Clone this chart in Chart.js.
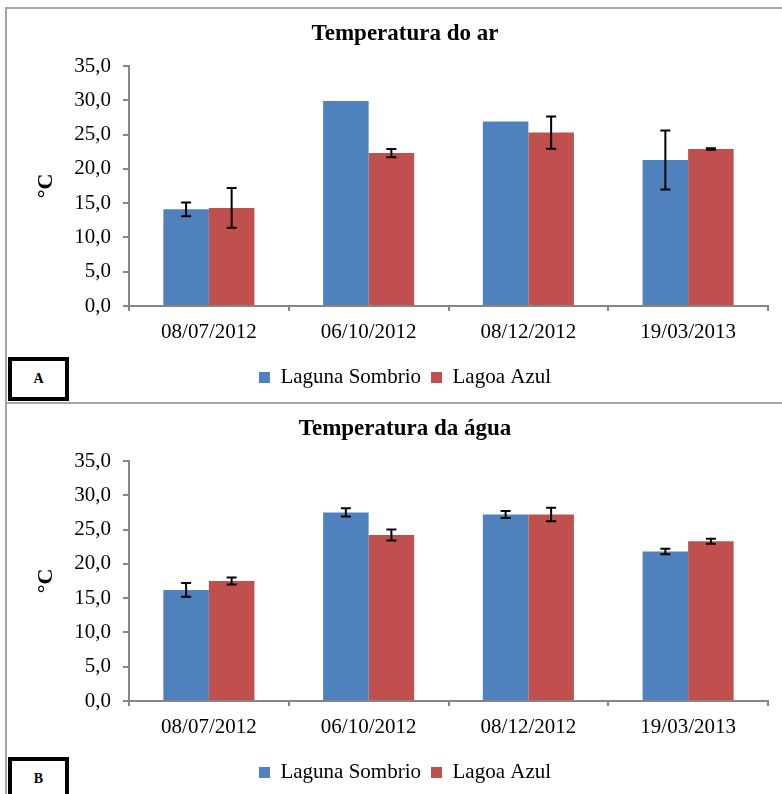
<!DOCTYPE html>
<html>
<head>
<meta charset="utf-8">
<script src="https://cdn.jsdelivr.net/npm/chart.js@4.4.0/dist/chart.umd.min.js"></script>
<style>
  body { margin: 0; background: #fff; overflow: hidden; width: 782px; height: 794px; position: relative; }
  canvas { position: absolute; left: 0; }
  .line { position: absolute; background: #a6a6a6; }
  .tag { position: absolute; left: 8px; width: 53px; height: 36px; border: 4px solid #000; background: #fff;
         font: bold 14px "Liberation Serif", serif; display: flex; align-items: center; justify-content: center; }
</style>
</head>
<body>
<canvas id="arChart" width="810" height="400" style="top:0"></canvas>
<canvas id="aguaChart" width="810" height="400" style="top:395px"></canvas>

<div class="line" style="left:5px; top:7px; width:2px; height:787px"></div>
<div class="line" style="left:5px; top:7px; width:777px; height:2px"></div>
<div class="line" style="left:5px; top:402px; width:777px; height:2px"></div>
<div class="tag" style="top:357px">A</div>
<div class="tag" style="top:757px">B</div>

<script>
// Data
const dates = ["08/07/2012", "06/10/2012", "08/12/2012", "19/03/2013"];
const seriesNames = ["Laguna Sombrio", "Lagoa Azul"];
const yTickLabels = ["0,0", "5,0", "10,0", "15,0", "20,0", "25,0", "30,0", "35,0"];

// A: Temperatura do ar
const arSombrio = [14.1, 29.9, 26.9, 21.3];
const arSombrioErr = [1.0, 0, 0, 4.3];
const arAzul = [14.3, 22.3, 25.3, 22.9];
const arAzulErr = [2.9, 0.6, 2.35, 0.1];

// B: Temperatura da água
const aguaSombrio = [16.2, 27.5, 27.2, 21.8];
const aguaSombrioErr = [1.0, 0.6, 0.5, 0.4];
const aguaAzul = [17.5, 24.2, 27.2, 23.3];
const aguaAzulErr = [0.5, 0.8, 1.0, 0.35];

const serif = "'Liberation Serif', 'Times New Roman', serif";
const axisGray = "#868686";

// error bars drawn from each dataset's "errors" array
const errorBars = {
  id: "errorBars",
  afterDatasetsDraw(chart) {
    const ctx = chart.ctx;
    const y = chart.scales.y;
    ctx.save();
    ctx.strokeStyle = "#000";
    ctx.lineWidth = 2;
    chart.data.datasets.forEach((ds, di) => {
      const meta = chart.getDatasetMeta(di);
      meta.data.forEach((bar, i) => {
        const err = ds.errors[i];
        if (!err) return;
        const top = y.getPixelForValue(ds.data[i] + err);
        const bot = y.getPixelForValue(ds.data[i] - err);
        ctx.beginPath();
        ctx.moveTo(bar.x, top); ctx.lineTo(bar.x, bot);
        ctx.moveTo(bar.x - 5, top); ctx.lineTo(bar.x + 5, top);
        ctx.moveTo(bar.x - 5, bot); ctx.lineTo(bar.x + 5, bot);
        ctx.stroke();
      });
    });
    ctx.restore();
  }
};

function makeChart(id, title, s1, e1, s2, e2) {
  const ctx = document.getElementById(id).getContext("2d");
  return new Chart(ctx, {
    type: "bar",
    data: {
      labels: dates,
      datasets: [
        { label: seriesNames[0], data: s1, errors: e1, backgroundColor: "#4F81BD" },
        { label: seriesNames[1], data: s2, errors: e2, backgroundColor: "#C0504D" }
      ]
    },
    options: {
      responsive: false,
      animation: false,
      devicePixelRatio: 1,
      categoryPercentage: 0.57,
      barPercentage: 1.0,
      layout: { padding: { left: 42, right: 42, top: 0, bottom: 2 } },
      plugins: {
        title: {
          display: true,
          text: title,
          color: "#000",
          font: { family: serif, size: 23, weight: "bold" },
          padding: { top: 20, bottom: 18.4 }
        },
        legend: {
          position: "bottom",
          labels: {
            color: "#000",
            boxWidth: 11,
            boxHeight: 11,
            padding: 10,
            font: { family: serif, size: 21 }
          }
        },
        tooltip: { enabled: false }
      },
      scales: {
        x: {
          grid: { drawOnChartArea: false, color: axisGray, lineWidth: 2, tickLength: 5 },
          border: { display: true, color: axisGray, width: 2 },
          ticks: { color: "#000", padding: 9, font: { family: serif, size: 21 } },
          afterFit: (scale) => { scale.height = 51; }
        },
        y: {
          min: 0,
          max: 35,
          ticks: {
            stepSize: 5,
            color: "#000",
            padding: 12,
            font: { family: serif, size: 21 },
            callback: (v, i) => yTickLabels[i]
          },
          grid: { drawOnChartArea: false, color: axisGray, lineWidth: 2, tickLength: 6 },
          border: { display: true, color: axisGray, width: 2 },
          title: {
            display: true,
            text: "°C",
            color: "#000",
            font: { family: serif, size: 22, weight: "bold" },
            padding: { top: -9, bottom: 0 }
          },
          afterFit: (scale) => { scale.width = 87; }
        }
      }
    },
    plugins: [errorBars]
  });
}

makeChart("arChart", "Temperatura do ar", arSombrio, arSombrioErr, arAzul, arAzulErr);
makeChart("aguaChart", "Temperatura da água", aguaSombrio, aguaSombrioErr, aguaAzul, aguaAzulErr);
</script>
</body>
</html>
